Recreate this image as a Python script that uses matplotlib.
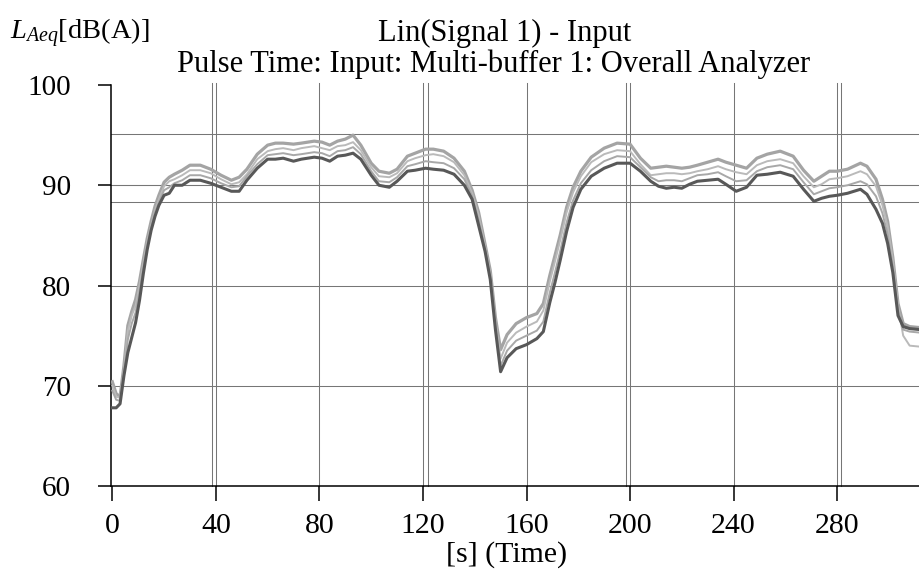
import matplotlib
matplotlib.use("Agg")
import matplotlib.pyplot as plt

plt.rcParams['font.family'] = ['Liberation Serif', 'DejaVu Serif']
plt.rcParams['mathtext.fontset'] = 'custom'
plt.rcParams['mathtext.rm'] = 'Liberation Serif'
plt.rcParams['mathtext.it'] = 'Liberation Serif:italic'

# time axis, seconds
time_s = [0, 1.5, 3, 4.5, 6, 7.5, 9, 10.5, 12, 13.5, 15, 16.5, 18, 20, 22, 24,
          27, 30, 34, 38, 42, 46, 49, 52, 56, 60, 63, 66, 70, 73, 78, 81, 84,
          87, 90, 93, 96, 100, 103, 107, 110, 114, 117, 121, 124, 128, 132,
          136, 139, 141.5, 144, 146, 148, 150, 152.5, 156, 160, 164, 166.5,
          169, 171, 173, 175.5, 178, 181, 185, 190, 195, 200, 204, 208, 211,
          214, 217, 220, 223, 226, 230, 234, 237, 241, 245, 249, 253, 258,
          263, 267, 271, 274, 277, 280, 284, 289, 291.5, 295, 297.5, 299.5,
          301.5, 303.5, 305.5, 308, 312]

# LAeq levels, dB(A)
level_1 = [70.4, 69.2, 68.9, 72.0, 76.0, 77.4, 78.6, 80.4, 82.6, 84.7, 86.4,
           87.9, 89.0, 90.3, 90.8, 91.1, 91.5, 92.0, 92.0, 91.6, 91.0, 90.5,
           90.8, 91.6, 93.1, 94.0, 94.2, 94.2, 94.1, 94.2, 94.4, 94.3, 94.0,
           94.4, 94.6, 95.0, 94.0, 92.2, 91.4, 91.2, 91.6, 92.9, 93.2, 93.6,
           93.6, 93.4, 92.7, 91.4, 89.5, 87.3, 84.1, 81.5, 76.8, 73.6, 75.1,
           76.2, 76.8, 77.2, 78.2, 81.0, 83.0, 85.0, 87.8, 89.8, 91.4, 92.8,
           93.7, 94.2, 94.1, 92.7, 91.7, 91.8, 91.9, 91.8, 91.7, 91.8, 92.0,
           92.3, 92.6, 92.3, 92.0, 91.7, 92.7, 93.1, 93.4, 92.9, 91.5, 90.4,
           90.9, 91.4, 91.4, 91.6, 92.2, 91.9, 90.6, 88.6, 86.4, 82.8, 78.2,
           76.2, 75.9, 75.8]
level_2 = [70.0, 68.9, 68.8, 71.6, 75.5, 77.0, 78.0, 80.0, 82.2, 84.4, 86.0,
           87.5, 88.6, 89.9, 90.4, 90.6, 91.0, 91.5, 91.5, 91.2, 90.6, 90.1,
           90.3, 91.1, 92.6, 93.4, 93.6, 93.7, 93.5, 93.7, 93.9, 93.7, 93.5,
           93.9, 94.0, 94.3, 93.5, 91.8, 90.9, 90.8, 91.2, 92.4, 92.7, 93.0,
           93.1, 92.9, 92.3, 91.0, 89.2, 87.0, 83.9, 81.2, 76.4, 72.7, 74.3,
           75.3, 75.9, 76.4, 77.5, 80.4, 82.4, 84.5, 87.3, 89.3, 90.9, 92.3,
           93.1, 93.5, 93.4, 92.1, 91.0, 91.1, 91.2, 91.2, 91.1, 91.2, 91.4,
           91.6, 91.9, 91.6, 91.3, 91.1, 92.0, 92.4, 92.6, 92.2, 90.9, 89.8,
           90.1, 90.6, 90.7, 90.9, 91.4, 91.1, 89.9, 88.0, 85.9, 82.5, 78.0,
           75.0, 74.0, 73.9]
level_3 = [69.5, 68.6, 68.5, 71.2, 74.6, 76.2, 77.3, 79.4, 81.8, 84.1, 85.8,
           87.3, 88.3, 89.5, 89.8, 90.2, 90.5, 91.0, 91.0, 90.7, 90.2, 89.8,
           89.9, 90.9, 92.1, 93.0, 93.1, 93.2, 93.0, 93.1, 93.3, 93.2, 92.9,
           93.4, 93.5, 93.8, 93.1, 91.4, 90.4, 90.3, 90.8, 91.9, 92.1, 92.4,
           92.3, 92.2, 91.7, 90.6, 88.9, 86.5, 83.6, 80.9, 76.0, 72.0, 73.5,
           74.5, 75.0, 75.5, 76.4, 79.3, 81.3, 83.4, 86.3, 88.5, 90.2, 91.5,
           92.4, 92.9, 92.8, 91.8, 90.8, 90.4, 90.5, 90.5, 90.4, 90.7, 91.0,
           91.1, 91.3, 90.9, 90.4, 90.5, 91.4, 91.8, 92.0, 91.6, 90.3, 89.1,
           89.4, 89.7, 89.8, 90.0, 90.4, 90.1, 88.9, 87.2, 85.1, 81.9, 77.5,
           75.6, 75.4, 75.3]
level_4 = [67.8, 67.8, 68.2, 71.0, 73.3, 74.8, 76.3, 78.5, 81.2, 83.6, 85.5,
           86.9, 88.0, 89.0, 89.2, 90.0, 90.0, 90.5, 90.5, 90.2, 89.8, 89.4,
           89.4, 90.5, 91.7, 92.6, 92.6, 92.7, 92.4, 92.6, 92.8, 92.7, 92.4,
           92.9, 93.0, 93.2, 92.6, 91.0, 90.0, 89.8, 90.4, 91.4, 91.5, 91.7,
           91.6, 91.5, 91.1, 90.0, 88.6, 86.0, 83.4, 80.6, 75.6, 71.4, 72.8,
           73.7, 74.1, 74.7, 75.4, 78.3, 80.3, 82.5, 85.4, 87.8, 89.6, 90.9,
           91.7, 92.2, 92.2, 91.4, 90.4, 89.9, 89.7, 89.8, 89.7, 90.1, 90.4,
           90.5, 90.6, 90.1, 89.4, 89.8, 91.0, 91.1, 91.3, 90.9, 89.6, 88.4,
           88.7, 88.9, 89.0, 89.2, 89.6, 89.1, 87.6, 86.2, 84.2, 81.3, 77.0,
           75.9, 75.7, 75.6]

x_ticks = [0, 40, 80, 120, 160, 200, 240, 280]
y_ticks = [60, 70, 80, 90, 100]
y_grid = [70, 80, 90]
cursor_t = [38.4, 121.8, 198.4, 281.3]
cursor_level = [95.1, 90.0, 88.3]

fig = plt.figure(figsize=(9.2, 5.7), dpi=100)
ax = fig.add_axes([111 / 920, 1 - 486 / 570, 1 - 111 / 920, 401 / 570])

line_col = '#767676'
for t in x_ticks[1:] + cursor_t:
    ax.axvline(t, color=line_col, lw=0.75, zorder=1, ymax=1.005, clip_on=False)
for v in y_grid + cursor_level:
    ax.axhline(v, color=line_col, lw=0.75, zorder=1)

ax.plot(time_s, level_1, color='#a4a4a4', lw=2.3, zorder=3)
ax.plot(time_s, level_2, color='#bababa', lw=1.4, zorder=3)
ax.plot(time_s, level_3, color='#a8a8a8', lw=1.4, zorder=3)
ax.plot(time_s, level_4, color='#585858', lw=2.2, zorder=4)

ax.set_xlim(-0.5, 312)
ax.set_ylim(60, 100)
ax.set_xticks(x_ticks)
ax.set_yticks(y_ticks)
for s in ['top', 'right']:
    ax.spines[s].set_visible(False)
for s in ['left', 'bottom']:
    ax.spines[s].set_linewidth(1.1)
ax.tick_params(axis='y', direction='out', length=9.5, width=1.1,
               pad=19.5, labelsize=21)
ax.tick_params(axis='x', direction='out', length=10.5, width=1.1,
               pad=9, labelsize=21.5)

fig.text(10 / 920, 1 - 33 / 570, r'$L_{Aeq}$[dB(A)]', fontsize=20.5,
         ha='left', va='center')
fig.text(505 / 920, 1 - 33 / 570, 'Lin(Signal 1) - Input', fontsize=22,
         ha='center', va='center')
fig.text(494 / 920, 1 - 64 / 570,
         'Pulse Time: Input: Multi-buffer 1: Overall Analyzer', fontsize=22,
         ha='center', va='center')
fig.text(507 / 920, 1 - 555 / 570, '[s] (Time)', fontsize=21.5,
         ha='center', va='center')

fig.savefig('out.png', dpi=100)
